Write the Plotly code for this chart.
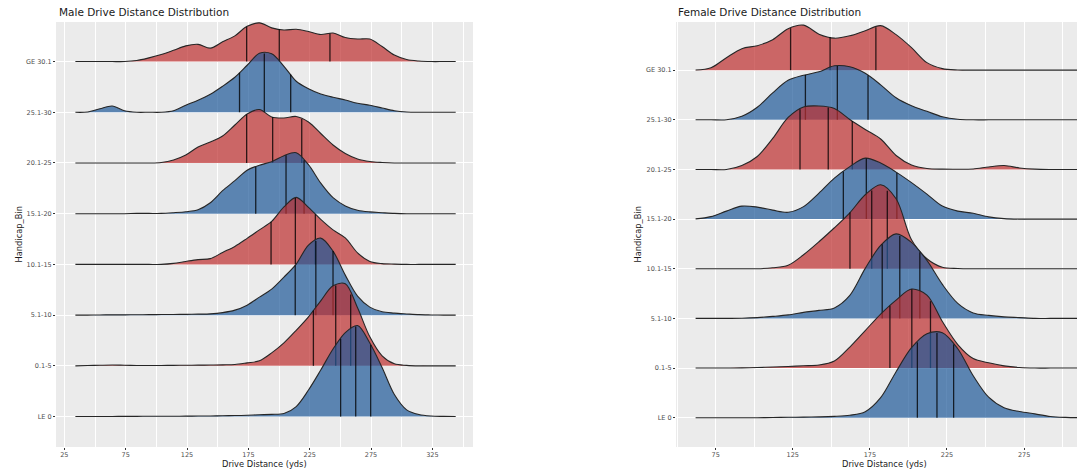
import numpy as np
import plotly.graph_objects as go

# ---------------- data ----------------
CATEGORIES = ["GE 30.1", "25.1-30", "20.1-25", "15.1-20", "10.1-15", "5.1-10", "0.1-5", "LE 0"]  # top -> bottom

# drive distance grid (yds) on which the ridge heights were read
MALE_X = list(range(34, 345, 10))
FEMALE_X = list(range(62, 313, 10))

# ridge heights (relative density, in reference pixels)
MALE_GE30 = [0, 0, 0, 0, 0, 1, 3.7, 7, 11.2, 15.7, 17.2, 13.4, 19.7, 25.7, 35.2, 38.7, 33.7, 31.5, 32.3, 30, 27, 28.5, 24, 22.5, 22.5, 15, 6.5, 2, 0.5, 0, 0, 0]
MALE_25_30 = [0, 0.3, 3.5, 6.3, 1.5, 0, 0, 0, 1.5, 7, 12, 18, 26, 35, 47, 59, 58.5, 46, 31, 23.6, 18.3, 15, 12.3, 9, 7, 4.3, 1.6, 0.3, 0, 0, 0, 0]
MALE_20_25 = [0, 0, 0, 0, 0, 0, 0, 0.5, 3, 8, 16, 21, 27, 38, 49, 53.5, 46, 45, 46.5, 41, 29.5, 18, 9.5, 4, 1.5, 0.5, 0, 0, 0, 0, 0, 0]
MALE_15_20 = [0, 0, 0, 0, 0, 0.3, 0.3, 0.3, 1, 2, 4, 11, 23, 33, 43.5, 48.5, 52, 58, 61, 49, 30.5, 16, 7.8, 3.5, 1.8, 1, 0.3, 0, 0, 0, 0, 0]
MALE_10_15 = [0, 0, 0, 0, 0, 0, 0, 0, 1, 3, 4.8, 5.8, 12, 18, 26, 34.5, 43, 57.5, 67, 57, 45, 34.5, 26.5, 11.5, 3, 0.8, 0.3, 0, 0, 0, 0, 0]
MALE_5_10 = [0, 0, 0.2, 0.3, 0.3, 0.4, 0.5, 0.6, 0.7, 0.8, 1, 1.3, 2.5, 5, 10, 18, 26, 38, 51, 70, 77, 64, 40, 19, 8, 3.3, 2, 1.2, 0.5, 0.2, 0, 0]
MALE_0_5 = [0, 0.3, 0.6, 0.8, 0.6, 0.4, 0.4, 0.4, 0.5, 0.6, 0.7, 0.8, 1, 1.3, 3, 5, 13, 23, 35.5, 49, 65, 80, 82, 58, 29, 10, 2, 0.5, 0, 0, 0, 0]
MALE_LE0 = [0, 0, 0, 0.1, 0.2, 0.2, 0.3, 0.3, 0.3, 0.4, 0.5, 0.6, 0.8, 1, 1.3, 1.8, 2.2, 3, 10, 26.5, 46.5, 67.5, 84, 91, 73.5, 49, 22, 6.7, 2, 0.5, 0.2, 0]

FEMALE_GE30 = [0.2, 2.5, 12.5, 21.5, 24.5, 30.5, 41.5, 45, 36, 32, 34.4, 39.5, 44.5, 35.5, 22.5, 7.5, 1.5, 0.2, 0, 0, 0, 0, 0, 0, 0, 0]
FEMALE_25_30 = [0, 0, 0, 3.5, 12.5, 27, 39.5, 44.5, 48, 54, 53, 46.5, 35, 22, 14, 8.5, 3, 0.5, 0, 0, 0, 0, 0, 0, 0, 0]
FEMALE_20_25 = [0, 0, 0, 4, 13, 31, 52, 62.5, 63.5, 61, 50, 40, 30.5, 14, 4.5, 1, 0.3, 0.2, 0.5, 2.5, 4, 1.5, 0.3, 0, 0, 0]
FEMALE_15_20 = [0.2, 2.5, 8, 13, 12, 9, 6.8, 12.5, 26, 41, 52.5, 61, 56, 47, 36.5, 25, 13, 8, 5.8, 2.2, 0.5, 0, 0, 0, 0, 0]
FEMALE_10_15 = [0, 0, 0, 0, 0, 1, 3.5, 14, 27, 41, 56, 74, 84, 70, 29, 10, 1.5, 0.3, 0, 0, 0, 0, 0, 0, 0, 0]
FEMALE_5_10 = [0, 0, 0, 0.2, 0.8, 2, 3.5, 6, 8, 10.5, 23, 50, 73, 84.5, 76, 58, 34, 15, 5.5, 3, 1.5, 0.8, 0, 0, 0, 0]
FEMALE_0_5 = [0, 0, 0, 0.2, 0.5, 1, 1.5, 2.3, 3, 7, 21, 37.5, 54, 68, 79, 73, 46.5, 23.5, 9.5, 5.3, 2.2, 0.6, 0, 0, 0, 0]
FEMALE_LE0 = [0, 0, 0, 0, 0, 0.2, 0.4, 0.6, 0.8, 1.3, 2.5, 6, 20, 46, 70, 84, 85, 69, 42, 20.5, 10, 6.2, 3.8, 1.2, 0.3, 0]

# quartiles (25%, 50%, 75%) per handicap bin
MALE_Q = [[173.6, 200.2, 241.5], [167.8, 188.0, 209.5], [173.6, 194.8, 218.5], [181.0, 205.7, 220.4],
          [193.5, 213.3, 229.6], [213.2, 230.0, 244.0], [228.0, 246.2, 258.4], [250.2, 262.5, 274.7]]
FEMALE_Q = [[123.6, 149.2, 178.9], [133.2, 153.9, 173.8], [129.7, 148.0, 163.6], [157.8, 172.7, 192.5],
            [162.1, 176.2, 186.3], [183.0, 194.4, 207.4], [188.0, 202.2, 214.3], [205.8, 218.5, 229.3]]

MALE_TICKS = [25, 75, 125, 175, 225, 275, 325]
FEMALE_TICKS = [75, 125, 175, 225, 275]

MALE_H = [MALE_GE30, MALE_25_30, MALE_20_25, MALE_15_20, MALE_10_15, MALE_5_10, MALE_0_5, MALE_LE0]
FEMALE_H = [FEMALE_GE30, FEMALE_25_30, FEMALE_20_25, FEMALE_15_20, FEMALE_10_15, FEMALE_5_10, FEMALE_0_5, FEMALE_LE0]

# ---------------- styling ----------------
W, H = 1077, 469
FONT = "DejaVu Sans"
RED = "rgba(190,45,45,0.70)"
BLUE = "rgba(30,88,152,0.70)"
OUTLINE = "#262626"
QLINE = "rgba(0,0,0,0.78)"
FILLS = [RED, BLUE, RED, BLUE, RED, BLUE, RED, BLUE]

fig = go.Figure()


def add_panel(xgrid, heights, quants, xa, ya, px_per_unit):
    n = len(CATEGORIES)
    for k in range(n):
        pos = n - k
        h = np.array(heights[k], dtype=float) / px_per_unit
        # baseline
        fig.add_trace(go.Scatter(x=[xgrid[0], xgrid[-1]], y=[pos, pos], mode="lines",
                                 line=dict(width=0, color="rgba(0,0,0,0)"), xaxis=xa, yaxis=ya,
                                 showlegend=False, hoverinfo="skip"))
        # ridge
        fig.add_trace(go.Scatter(x=xgrid, y=pos + h, mode="lines", fill="tonexty", fillcolor=FILLS[k],
                                 line=dict(color=OUTLINE, width=1.1, shape="spline", smoothing=0.9),
                                 xaxis=xa, yaxis=ya, showlegend=False, hoverinfo="skip"))
        # quantile lines
        qx, qy = [], []
        for q in quants[k]:
            top = pos + np.interp(q, xgrid, h)
            qx += [q, q, None]
            qy += [pos, top, None]
        fig.add_trace(go.Scatter(x=qx, y=qy, mode="lines", line=dict(color=QLINE, width=1.3),
                                 xaxis=xa, yaxis=ya, showlegend=False, hoverinfo="skip"))


add_panel(MALE_X, MALE_H, MALE_Q, "x", "y", 50.7)
add_panel(FEMALE_X, FEMALE_H, FEMALE_Q, "x2", "y2", 49.65)

tickfont = dict(family=FONT, size=6.5, color="#4D4D4D")
common_x = dict(showgrid=True, gridcolor="white", gridwidth=1, zeroline=False, showline=False,
                ticks="outside", ticklen=1.5, tickwidth=0.8, tickcolor="#333333", tickfont=tickfont)
common_y = dict(showgrid=True, gridcolor="white", gridwidth=1, zeroline=False, showline=False,
                ticks="outside", ticklen=2, tickwidth=0.8, tickcolor="#333333", tickfont=tickfont,
                tickvals=list(range(1, len(CATEGORIES) + 1)), ticktext=CATEGORIES[::-1])

fig.update_layout(
    width=W, height=H,
    margin=dict(l=0, r=0, t=22, b=22),
    paper_bgcolor="white", plot_bgcolor="#EBEBEB",
    showlegend=False,
    xaxis=dict(domain=[56 / W, 473 / W], range=[18.2, 358.1], anchor="y",
               tickvals=MALE_TICKS,
               minor=dict(tickvals=[50, 100, 150, 200, 250, 300, 350], showgrid=True,
                          gridcolor="white", gridwidth=0.5, ticks=""),
               **common_x),
    yaxis=dict(domain=[0, 1], range=[0.4, 8.78], anchor="x", **common_y),
    xaxis2=dict(domain=[676 / W, 1.0], range=[49.3, 309.3], anchor="y2",
                tickvals=FEMALE_TICKS,
                minor=dict(tickvals=[50, 100, 150, 200, 250, 300], showgrid=True,
                           gridcolor="white", gridwidth=0.5, ticks=""),
                **common_x),
    yaxis2=dict(domain=[0, 1], range=[0.41, 8.97], anchor="x2", **common_y),
)

title_font = dict(family=FONT, size=10.5, color="#1a1a1a")
axis_font = dict(family=FONT, size=8.3, color="#1a1a1a")
ann = [
    dict(text="Male Drive Distance Distribution", x=57 / W, y=1 + 10 / 425, xanchor="left",
         yanchor="middle", font=title_font),
    dict(text="Female Drive Distance Distribution", x=676 / W, y=1 + 10 / 425, xanchor="left",
         yanchor="middle", font=title_font),
    dict(text="Drive Distance (yds)", x=264.5 / W, y=-17 / 425, xanchor="center", yanchor="middle",
         font=axis_font),
    dict(text="Drive Distance (yds)", x=884 / W, y=-17 / 425, xanchor="center", yanchor="middle",
         font=axis_font),
    dict(text="Handicap_Bin", x=18 / W, y=0.5, textangle=-90, xanchor="center", yanchor="middle",
         font=axis_font),
    dict(text="Handicap_Bin", x=637 / W, y=0.5, textangle=-90, xanchor="center", yanchor="middle",
         font=axis_font),
]
for a in ann:
    a.update(xref="paper", yref="paper", showarrow=False)
fig.update_layout(annotations=ann)

fig.write_html("out.html", config={"displayModeBar": False},
               post_script="document.body.style.margin='0';document.body.style.overflow='hidden';")
